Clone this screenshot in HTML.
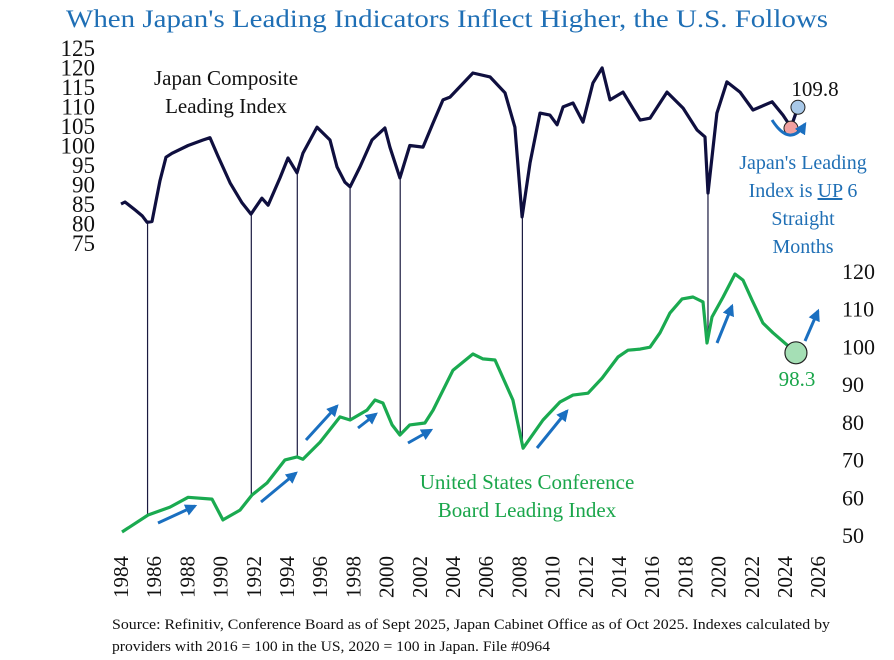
<!DOCTYPE html>
<html><head><meta charset="utf-8"><style>
html,body{margin:0;padding:0;background:#fff;}
svg{display:block;font-family:"Liberation Serif",serif;}
</style></head><body>
<svg id="chart" width="894" height="660" viewBox="0 0 894 660" xmlns="http://www.w3.org/2000/svg">
<defs><marker id="ah" viewBox="0 0 10 10" refX="8" refY="5" markerWidth="4" markerHeight="4" orient="auto"><path d="M0,0 L10,5 L0,10 z" fill="#1a6fc0"/></marker></defs>
<text x="447" y="27" text-anchor="middle" font-size="25" fill="#1f6fb5" textLength="762" lengthAdjust="spacingAndGlyphs">When Japan's Leading Indicators Inflect Higher, the U.S. Follows</text>
<g id="yl"></g>
<g id="yr"></g>
<g id="xl"></g>
<g id="vl"></g>
<g id="series"></g>
<g stroke="#1a6fc0" stroke-width="3" marker-end="url(#ah)">
<line x1="158" y1="523" x2="195" y2="506"/><line x1="261" y1="502" x2="296" y2="473"/><line x1="306" y1="440" x2="337" y2="406"/><line x1="358" y1="428" x2="376" y2="414"/><line x1="408" y1="443" x2="431" y2="430"/><line x1="537" y1="448" x2="567" y2="411"/><line x1="717" y1="343" x2="732" y2="306"/><line x1="805" y1="341" x2="818" y2="311"/>
<path d="M772,120 Q790,148 805,124" fill="none"/>
</g>
<text font-size="21" fill="#111" text-anchor="middle"><tspan x="226" y="85">Japan Composite</tspan><tspan x="226" y="113">Leading Index</tspan></text>
<text x="815" y="96" font-size="21" text-anchor="middle" fill="#111">109.8</text>
<text font-size="20" fill="#1f6fb5" text-anchor="middle"><tspan x="803" y="169">Japan's Leading</tspan><tspan x="803" y="197">Index is <tspan text-decoration="underline">UP</tspan> 6</tspan><tspan x="803" y="225">Straight</tspan><tspan x="803" y="253">Months</tspan></text>
<text font-size="21" fill="#1aa64b" text-anchor="middle"><tspan x="527" y="489">United States Conference</tspan><tspan x="527" y="517">Board Leading Index</tspan></text>
<text x="797" y="386" font-size="21" text-anchor="middle" fill="#1aa64b">98.3</text>
<text font-size="15" fill="#111"><tspan x="112" y="629" textLength="718" lengthAdjust="spacingAndGlyphs">Source: Refinitiv, Conference Board as of Sept 2025, Japan Cabinet Office as of Oct 2025. Indexes calculated by</tspan><tspan x="112" y="651" textLength="438" lengthAdjust="spacingAndGlyphs">providers with 2016 = 100 in the US,  2020 = 100 in Japan. File #0964</tspan></text>
</svg>
<script>
const jpYears=[1984.0,1984.24,1984.84,1985.27,1985.57,1985.87,1986.35,1986.71,1987.07,1988.04,1988.94,1989.36,1989.84,1990.57,1991.29,1991.83,1992.49,1992.86,1993.58,1994.06,1994.6,1994.96,1995.81,1996.59,1997.01,1997.49,1997.8,1998.4,1999.12,1999.9,2000.2,2000.8,2001.4,2002.19,2002.8,2003.4,2003.82,2005.2,2006.23,2007.13,2007.73,2008.16,2008.64,2009.24,2009.84,2010.27,2010.63,2011.23,2011.83,2012.43,2012.98,2013.46,2014.24,2015.27,2015.87,2016.89,2017.86,2018.7,2019.18,2019.36,2019.9,2020.5,2021.29,2022.07,2023.22,2023.88,2024.36,2024.78];
const jpValues=[85,85.5,83.5,82,80.3,80.5,91,97,98,100,101.4,102,97.3,90.4,85.3,82.4,86.5,84.7,91.7,96.8,93,98,104.7,101.4,94.5,90.6,89.4,94.5,101.4,104.5,99.6,91.7,100,99.6,105.8,111.7,112.4,118.6,117.6,113.5,104.7,81.7,95.5,108.3,107.8,105.3,109.9,110.9,106,116,119.9,111.7,113.7,106.5,107,113.7,109.6,104,102.2,87.8,108.3,116.3,113.7,109.1,111.2,107.8,104.7,109.8];
const usYears=[1984.06,1985.63,1986.95,1988.04,1989.48,1990.14,1991.17,1991.89,1992.8,1993.88,1994.6,1994.96,1995.99,1997.19,1997.8,1998.82,1999.3,1999.78,2000.33,2000.8,2001.4,2002.31,2002.8,2004.0,2005.2,2005.81,2006.53,2007.61,2008.22,2009.42,2010.45,2011.23,2012.13,2012.98,2013.94,2014.54,2015.27,2015.87,2016.47,2017.07,2017.8,2018.46,2019.06,2019.3,2019.6,2020.27,2020.99,2021.47,2022.01,2022.67,2023.28,2024.12,2024.72];
const usValues=[50.8,55.3,57.4,60,59.5,54,56.6,60.6,63.8,69.9,70.7,70.1,74.6,81.3,80.5,83.1,85.8,85,79.2,76.5,79.2,79.7,83.1,93.7,98,96.7,96.4,85.8,73,80.5,85.3,87.1,87.6,91.6,97.2,99,99.3,99.8,103.6,108.9,112.6,113.1,111.8,100.9,107.8,113.1,119.2,117.6,112.3,106.2,103.6,100.4,98.3];
const troughYears=[1985.6,1991.85,1994.62,1997.8,2000.82,2008.18,2019.36];
const leftTicks=[125,120,115,110,105,100,95,90,85,80,75];
const rightTicks=[120,110,100,90,80,70,60,50];
const xTicks=[1984,1986,1988,1990,1992,1994,1996,1998,2000,2002,2004,2006,2008,2010,2012,2014,2016,2018,2020,2022,2024,2026];

const NS='http://www.w3.org/2000/svg';
const X=y=>121+(y-1984)*16.6;
const YL=v=>48+(125-v)*3.9;
const YR=v=>271+(120-v)*3.771;
function mk(tag,attrs,parent,txt){const e=document.createElementNS(NS,tag);for(const k in attrs)e.setAttribute(k,attrs[k]);if(txt!==undefined)e.textContent=txt;parent.appendChild(e);return e;}
function interp(xs,vs,t){if(t<=xs[0])return vs[0];for(let i=1;i<xs.length;i++){if(t<=xs[i]){const f=(t-xs[i-1])/(xs[i]-xs[i-1]);return vs[i-1]+f*(vs[i]-vs[i-1]);}}return vs[vs.length-1];}

const yl=document.getElementById('yl');
leftTicks.forEach(v=>{const t=mk('text',{x:95,y:YL(v)+8,'text-anchor':'end','font-size':23,fill:'#111'},yl,String(v));

});
const yr=document.getElementById('yr');
rightTicks.forEach(v=>{const t=mk('text',{x:842,y:YR(v)+8,'font-size':22,fill:'#111'},yr,String(v));

});
const xl=document.getElementById('xl');
xTicks.forEach(v=>{const x=X(v)+7;const t=mk('text',{x:x,y:598,transform:'rotate(-90 '+x+' 598)','font-size':21,fill:'#111'},xl,String(v));

});

const vl=document.getElementById('vl');
troughYears.forEach(t=>{const x=X(t);const l=mk('line',{x1:x,x2:x,y1:YL(interp(jpYears,jpValues,t)),y2:YR(interp(usYears,usValues,t)),stroke:'#1a1a40','stroke-width':1.2},vl);

});

const sg=document.getElementById('series');
const jp=mk('polyline',{points:jpYears.map((y,i)=>X(y).toFixed(1)+','+YL(jpValues[i]).toFixed(1)).join(' '),fill:'none',stroke:'#0f0f3f','stroke-width':3.2,'stroke-linejoin':'round'},sg);


const us=mk('polyline',{points:usYears.map((y,i)=>X(y).toFixed(1)+','+YR(usValues[i]).toFixed(1)).join(' '),fill:'none',stroke:'#1aaa50','stroke-width':3.2,'stroke-linejoin':'round'},sg);


const n=jpYears.length;
const rd=mk('circle',{cx:X(jpYears[n-2]),cy:YL(jpValues[n-2])+1,r:7,fill:'#f0a0a0',stroke:'#222','stroke-width':1},sg);


const bd=mk('circle',{cx:X(jpYears[n-1]),cy:YL(jpValues[n-1]),r:7,fill:'#a8c8e8',stroke:'#222','stroke-width':1},sg);


const m=usYears.length;
const gd=mk('circle',{cx:X(usYears[m-1])-1,cy:YR(usValues[m-1]),r:11,fill:'#a5dfb5',stroke:'#222','stroke-width':1.2},sg);


</script>
</body></html>
